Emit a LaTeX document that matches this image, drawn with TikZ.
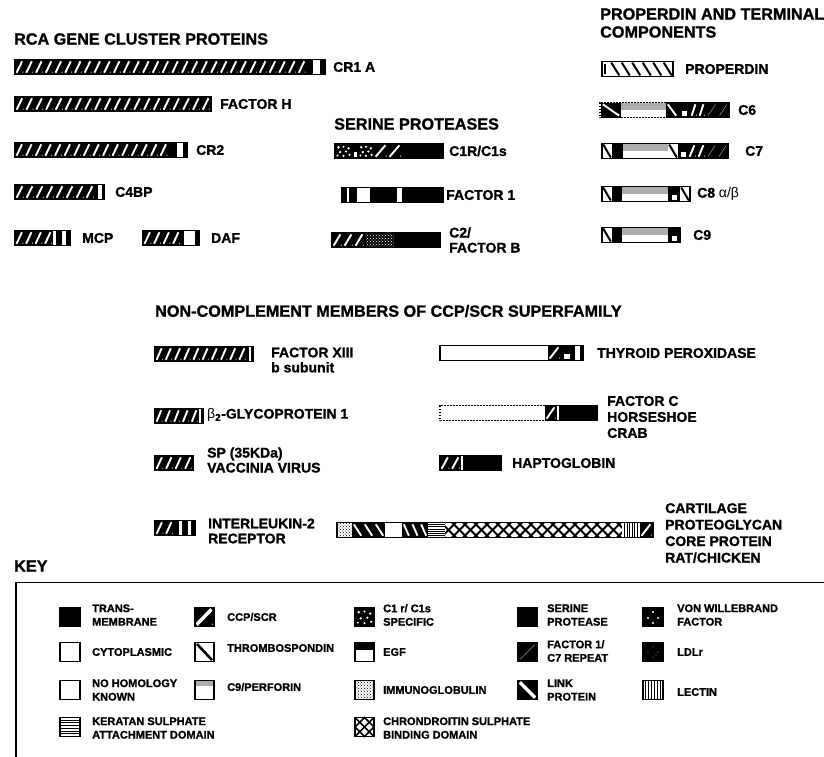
\documentclass[tikz,border=0pt]{standalone}
\usepackage{fontspec}
\setmainfont{Liberation Sans}[BoldFeatures={FakeBold=1.2}]
\usetikzlibrary{patterns}
\def\hh{7.5}
\def\slw{1.9}
\newcommand{\sgBlack}[3]{\fill[black] (#1,#3-\hh) rectangle (#2,#3+\hh);}
\newcommand{\sgWhite}[3]{\fill[white] (#1,#3-\hh) rectangle (#2,#3+\hh);}
\newcommand{\sgSCR}[3]{\fill[black] (#1,#3-\hh) rectangle (#2,#3+\hh);
  \draw[white,line width=\slw pt] (#1+1.6,#3+\hh-1.8) -- (#2-2.6,#3-\hh+1.8);
  \fill[white] (#2-1.7,#3+\hh-2.4) circle (0.6);}
\newcommand{\sgTSP}[3]{\fill[white] (#1,#3-\hh) rectangle (#2,#3+\hh);
  \draw[black,line width=2pt] (#1+1.2,#3-\hh+1) -- (#2-1.2,#3+\hh-1);}
\newcommand{\sgLink}[3]{\fill[black] (#1,#3-\hh) rectangle (#2,#3+\hh);
  \draw[white,line width=\slw pt] (#1+1.8,#3-\hh+1.8) -- (#2-1.8,#3+\hh-1.8);}
\newcommand{\sgPerf}[3]{\fill[white] (#1,#3-\hh) rectangle (#2,#3+\hh);
  \fill[black!32] (#1,#3-\hh) rectangle (#2,#3-0.5);}
\newcommand{\sgEGF}[3]{\fill[black] (#1,#3-\hh) rectangle (#2,#3+\hh);
  \fill[white] ({#1+0.3*(#2-#1)},#3+1) rectangle ({#2-0.22*(#2-#1)},#3+\hh-1.2);}
\newcommand{\sgFone}[3]{\fill[black] (#1,#3-\hh) rectangle (#2,#3+\hh);
  \draw[black!40,line width=0.5pt] (#1+2,#3+\hh-2) -- (#2-2,#3-\hh+2);}
\newcommand{\sgCUB}[3]{\fill[black] (#1,#3-\hh) rectangle (#2,#3+\hh);
  \foreach \fx/\fy/\rr in {0.2/-3.5/1.4, 0.5/-4/1.1, 0.8/-2.5/1.3, 0.3/1/1.3, 0.65/0.5/1.2, 0.15/4.2/1.1, 0.5/4.5/1.2, 0.85/3.5/1.2}
    {\fill[white] ({#1+\fx*(#2-#1)},{#3+\fy*\hh/7}) circle (\rr);}}
\newcommand{\sgIg}[3]{\fill[white] (#1,#3-\hh) rectangle (#2,#3+\hh);
  \fill[pattern=crosshatch dots] (#1,#3-\hh) rectangle (#2,#3+\hh);}
\newcommand{\sgVWF}[3]{\fill[black] (#1,#3-\hh) rectangle (#2,#3+\hh);
  \fill[pattern=crosshatch dots, pattern color=white] (#1+1,#3-\hh+1.5) rectangle (#2-1,#3+\hh-1.5);}
\newcommand{\sgKS}[3]{\fill[white] (#1,#3-\hh) rectangle (#2,#3+\hh);
  \foreach \dy in {-0.72,-0.43,-0.14,0.14,0.43,0.72}{\draw[line width=0.9pt] (#1,{#3+\dy*\hh}) -- (#2,{#3+\dy*\hh});}}
\newcommand{\sgLectin}[3]{\fill[white] (#1,#3-\hh) rectangle (#2,#3+\hh);
  \foreach \j in {1,...,6}{\draw[line width=0.9pt] ({#1+\j*(#2-#1)/7},#3-\hh) -- ({#1+\j*(#2-#1)/7},#3+\hh);}}
\newcommand{\sgCS}[3]{\fill[white] (#1,#3-\hh) rectangle (#2,#3+\hh);
  \begin{scope}\clip (#1,#3-\hh) rectangle (#2,#3+\hh);
  \foreach \j in {0,...,20}{\draw[line width=1.9pt] ({#1-2*\hh+\j*11},#3-\hh) -- ++(2*\hh,2*\hh);
    \draw[line width=1.9pt] ({#1+\j*11},#3-\hh) -- ++(-2*\hh,2*\hh);}
  \end{scope}}
\newcommand{\sgBox}[3]{\draw[line width=1.4pt] (#1,#3-\hh) rectangle (#2,#3+\hh);}
\newcommand{\sgRep}[5]{\foreach \k in {1,...,#4}{\pgfmathsetmacro\xa{#2+(\k-1)*#3}\pgfmathsetmacro\xb{#2+\k*#3}#1{\xa}{\xb}{#5}}}
\newcommand{\sgSCRs}[4]{\sgRep\sgSCR{#1}{#2}{#3}{#4}}
\begin{document}
\begin{tikzpicture}[x=1pt,y=-1pt,
  hdr/.style={font=\fontsize{16.2}{18}\selectfont\bfseries, inner sep=0pt, anchor=west, align=left},
  lbl/.style={font=\fontsize{14}{16}\selectfont\bfseries, inner sep=0pt, anchor=west, align=left},
  keyt/.style={font=\fontsize{11}{13.5}\selectfont\bfseries, inner sep=0pt, anchor=west, align=left}]
\useasboundingbox (0,0) rectangle (824,756);
\fill[white] (0,0) rectangle (824,756);
% headings
\node[hdr] (hRCA) at (14,39) {RCA GENE CLUSTER PROTEINS};
\node[hdr] (hSER) at (334,124) {SERINE PROTEASES};
\node[hdr] (hPRO) at (600,23) {PROPERDIN AND TERMINAL\\COMPONENTS};
\node[hdr] (hNON) at (155,311) {NON-COMPLEMENT MEMBERS OF CCP/SCR SUPERFAMILY};
\node[hdr] (hKEY) at (14,566) {KEY};
% RCA
\sgSCRs{15}{9.73}{30}{67}\sgBlack{307}{313}{67}\sgWhite{313}{320}{67}\sgBlack{320}{325}{67}\sgBox{15}{325}{67}
\node[lbl] (lCR1) at (333,67) {CR1 A};
\sgSCRs{15}{9.8}{20}{104}\sgBox{15}{211}{104}
\node[lbl] (lFH) at (220,104) {FACTOR H};
\sgSCRs{15}{9.6}{16}{150}\sgBlack{168.6}{177}{150}\sgWhite{177}{183}{150}\sgBlack{183}{187}{150}\sgBox{15}{187}{150}
\node[lbl] (lCR2) at (196,150) {CR2};
\sgSCRs{15}{10}{8}{192}\sgBlack{95}{98}{192}\sgWhite{98}{101.5}{192}\sgBlack{101.5}{104}{192}\sgBox{15}{104}{192}
\node[lbl] (lC4) at (115,192) {C4BP};
\sgSCRs{15}{9.5}{4}{238}\sgWhite{53}{56}{238}\sgBlack{56}{62}{238}\sgWhite{62}{65.5}{238}\sgBlack{65.5}{70}{238}\sgBox{15}{70}{238}
\node[lbl] (lMCP) at (82,238) {MCP};
\sgSCRs{143}{9.5}{4}{238}\sgBlack{181}{184}{238}\sgWhite{184}{195}{238}\sgBlack{195}{199}{238}\sgBox{143}{199}{238}
\node[lbl] (lDAF) at (211,238) {DAF};
% serine proteases
\sgCUB{335}{352}{151}\sgEGF{352}{358}{151}\sgCUB{358}{374}{151}\sgSCR{374}{388}{151}\sgSCR{388}{402}{151}\sgBlack{402}{443}{151}\sgBox{335}{443}{151}
\node[lbl] (lC1R) at (449,151) {C1R/C1s};
\sgBlack{342}{443}{195}\sgWhite{346.5}{348.5}{195}\sgWhite{357}{370}{195}\sgWhite{397}{402}{195}\sgBox{342}{443}{195}
\node[lbl] (lFI) at (446,195) {FACTOR 1};
\sgSCRs{332}{11}{3}{240}\sgVWF{365}{395}{240}\sgBlack{395}{440}{240}\sgBox{332}{440}{240}
\node[lbl, font=\fontsize{14}{15}\selectfont\bfseries] (lC2) at (449,240) {C2/\\FACTOR B};
% properdin and terminal
\sgWhite{602}{610}{69}\draw[line width=1.2pt] (605,64) -- (605,74);
\sgRep\sgTSP{610}{10.5}{6}{69}\sgBox{602}{673}{69}
\node[lbl] (lPROP) at (685,69) {PROPERDIN};
\sgLink{601}{621}{110}\sgPerf{621}{666}{110}\sgLink{666}{678}{110}\sgEGF{678}{690}{110}\sgSCRs{690}{8}{2}{110}\sgRep\sgFone{706}{11.5}{2}{110}
\draw[line width=1.4pt, dash pattern=on 1.6pt off 1.4pt] (666,102.5) -- (600,102.5) -- (600,117.5) -- (690,117.5);
\draw[line width=1.4pt] (666,102.5) -- (729,102.5) -- (729,117.5) -- (690,117.5);
\node[lbl] (lC6) at (738,110) {C6};
\sgTSP{602}{612}{151}\sgBlack{612}{623}{151}\sgPerf{623}{668}{151}\sgTSP{668}{678}{151}\sgEGF{678}{688}{151}\sgSCRs{688}{9}{2}{151}\sgRep\sgFone{706}{11}{2}{151}\sgBox{602}{728}{151}
\node[lbl] (lC7) at (745,151) {C7};
\sgTSP{602}{612}{194}\sgBlack{612}{622}{194}\sgPerf{622}{668}{194}\sgEGF{668}{680}{194}\sgTSP{680}{690}{194}\sgBox{602}{690}{194}
\node[lbl] (lC8) at (697,194) {C8 {\mdseries α/β}};
\sgTSP{602}{612}{235}\sgBlack{612}{622}{235}\sgPerf{622}{668}{235}\sgEGF{668}{680}{235}\sgBox{602}{680}{235}
\node[lbl] (lC9) at (693,235) {C9};
% non-complement
\sgSCRs{155}{9.2}{10}{354}\sgBlack{247}{248.5}{354}\sgWhite{248.5}{251}{354}\sgBlack{251}{253}{354}\sgBox{155}{253}{354}
\node[lbl, font=\fontsize{14}{15}\selectfont\bfseries] (lF13) at (271,360) {FACTOR XIII\\b subunit};
\sgSCRs{155}{8.8}{5}{416}\sgWhite{199}{201}{416}\sgBlack{201}{203}{416}\sgBox{155}{203}{416}
\node[lbl] (lB2) at (207,415) {{\mdseries β}\textsubscript{2}-GLYCOPROTEIN 1};
\sgSCRs{155}{9.5}{4}{463}\sgBox{155}{193}{463}
\node[lbl, font=\fontsize{14}{15}\selectfont\bfseries] (lSP) at (207,460) {SP (35KDa)\\VACCINIA VIRUS};
\sgSCRs{155}{9.5}{2}{528}\sgBlack{174}{179}{528}\sgWhite{179}{182}{528}\sgBlack{182}{188}{528}\sgWhite{188}{190.5}{528}\sgBlack{190.5}{195}{528}\sgBox{155}{195}{528}
\node[lbl, font=\fontsize{14}{15}\selectfont\bfseries] (lIL) at (208,531) {INTERLEUKIN-2\\RECEPTOR};
\sgWhite{440}{548}{353}\sgSCR{548}{561}{353}\sgEGF{561}{572}{353}\sgBlack{572}{575}{353}\sgWhite{575}{580}{353}\sgBlack{580}{583}{353}\sgBox{440}{583}{353}
\node[lbl] (lTPO) at (597,353) {THYROID PEROXIDASE};
\sgWhite{440}{545}{413}\sgSCR{545}{557}{413}\sgWhite{557}{559}{413}\sgBlack{559}{597}{413}
\draw[line width=1.4pt, dash pattern=on 1.6pt off 1.4pt] (545,405.5) -- (440,405.5) -- (440,420.5) -- (545,420.5);
\draw[line width=1.4pt] (545,405.5) -- (597,405.5) -- (597,420.5) -- (545,420.5);
\node[lbl] (lFC) at (607,417) {FACTOR C\\HORSESHOE\\CRAB};
\sgSCRs{440}{10.5}{2}{463}\sgWhite{461}{463}{463}\sgBlack{463}{501}{463}\sgBox{440}{501}{463}
\node[lbl] (lHP) at (512,463) {HAPTOGLOBIN};
\sgIg{337}{352}{530}\sgRep\sgLink{352}{11}{3}{530}\sgWhite{385}{402}{530}\sgRep\sgLink{402}{8.67}{3}{530}\sgKS{428}{445}{530}\sgCS{445}{622}{530}\sgLectin{622}{640}{530}\sgSCR{640}{653}{530}\sgBox{337}{653}{530}
\node[lbl, font=\fontsize{14}{16.5}\selectfont\bfseries] (lCART) at (665,533) {CARTILAGE\\PROTEOGLYCAN\\CORE PROTEIN\\RAT/CHICKEN};
% key
\draw[line width=1.4pt] (16,760) -- (16,582.5) -- (830,582.5);
\begin{scope}
\def\hh{9.5}\def\slw{3.5}
\sgBlack{60}{80}{617}\sgBox{60}{80}{617}
\sgSCR{195}{214}{617}\sgBox{195}{214}{617}
\sgCUB{355}{374}{617}\sgBox{355}{374}{617}
\sgBlack{518}{537}{617}\sgBox{518}{537}{617}
\sgBlack{643}{663}{617}\foreach \dx/\dy in {0/-5, -5/1, 5/1, 0/6}{\fill[white] (653+\dx,617+\dy) circle (1.1);}\sgBox{643}{663}{617}
\sgWhite{60}{80}{652}\sgBox{60}{80}{652}
\sgWhite{195}{214}{652}\draw[line width=2.6pt] (197,644) -- (212,660);\sgBox{195}{214}{652}
\sgWhite{355}{374}{652}\fill[black] (355,642.5) rectangle (374,650);\sgBox{355}{374}{652}
\sgFone{518}{537}{652}\sgBox{518}{537}{652}
\sgBlack{643}{663}{652}\foreach \dx/\dy in {0/-5, -5/0, 5/0, 0/5, 3/3}{\fill[black!55] (653+\dx,652+\dy) circle (0.6);}\sgBox{643}{663}{652}
\sgWhite{60}{80}{690}\sgBox{60}{80}{690}
\sgWhite{195}{214}{690}\fill[black!32] (195,680.5) rectangle (214,686);\sgBox{195}{214}{690}
\sgIg{355}{374}{690}\sgBox{355}{374}{690}
\sgLink{518}{537}{690}\sgBox{518}{537}{690}
\sgLectin{643}{663}{690}\sgBox{643}{663}{690}
\sgKS{60}{80}{727}\sgBox{60}{80}{727}
\sgWhite{355}{374}{727}\draw[line width=1.5pt] (355,717.5) -- (374,736.5) (355,736.5) -- (374,717.5) (364.5,717.5) -- (374,727) -- (364.5,736.5) -- (355,727) -- cycle;\sgBox{355}{374}{727}
\end{scope}
\node[keyt] (kTM) at (92,615) {TRANS-\\MEMBRANE};
\node[keyt] (kSCR) at (227,617) {CCP/SCR};
\node[keyt] (kCUB) at (383,615) {C1 r/ C1s\\SPECIFIC};
\node[keyt] (kSP) at (547,615) {SERINE\\PROTEASE};
\node[keyt] (kVWF) at (677,615) {VON WILLEBRAND\\FACTOR};
\node[keyt] (kCYT) at (92,652) {CYTOPLASMIC};
\node[keyt] (kTSP) at (227,648) {THROMBOSPONDIN};
\node[keyt] (kEGF) at (383,652) {EGF};
\node[keyt] (kF1) at (547,651) {FACTOR 1/\\C7 REPEAT};
\node[keyt] (kLDL) at (677,652) {LDLr};
\node[keyt] (kNH) at (92,690) {NO HOMOLOGY\\KNOWN};
\node[keyt] (kPERF) at (227,687) {C9/PERFORIN};
\node[keyt] (kIG) at (383,690) {IMMUNOGLOBULIN};
\node[keyt] (kLINK) at (547,690) {LINK\\PROTEIN};
\node[keyt] (kLEC) at (677,692) {LECTIN};
\node[keyt] (kKS) at (92,728) {KERATAN SULPHATE\\ATTACHMENT DOMAIN};
\node[keyt] (kCS) at (383,728) {CHRONDROITIN SULPHATE\\BINDING DOMAIN};
\end{tikzpicture}
\end{document}
